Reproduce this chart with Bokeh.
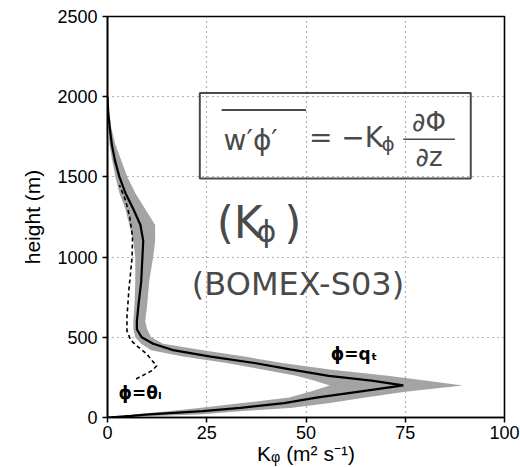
from bokeh.plotting import figure
from bokeh.models import Range1d, FixedTicker
from bokeh.core.properties import value
from bokeh.embed import file_html
from bokeh.resources import INLINE

# ---- data ----
z_prof = [0, 10, 20, 40, 60, 90, 125, 160, 200, 230, 260, 300, 340, 380, 420, 460,
          500, 550, 600, 700, 850, 1000, 1100, 1200, 1300, 1400, 1500, 1600, 1700,
          1800, 1900, 2000]
k_qt = [0, 6, 10.5, 24, 33.5, 44.5, 53, 63, 74.5, 66.5, 55.75, 46, 37, 26, 16.5, 11.5,
        8.6, 7.4, 7.4, 7.8, 8.5, 8.8, 9, 8.3, 6.5, 4.5, 3, 1.9, 1.1, 0.6, 0.2, 0]
k_qt_hi = [0, 12, 24, 34, 46, 56, 65, 75, 89.5, 80, 70.6, 56, 44, 34.5, 24, 14,
           11, 10, 9.5, 10, 10.5, 11.5, 12, 12, 9.5, 7, 5, 3.5, 2, 1, 0.4, 0]
k_qt_lo = [0, 3.5, 7, 16, 23, 34, 45.75, 51, 56, 52, 47.5, 39, 30, 19, 11, 8.5,
           7, 6.5, 6.5, 6.8, 7, 7, 6.5, 5.5, 4.5, 3, 2, 1.2, 0.5, 0.2, 0, 0]

z_thl = [240, 255, 275, 295, 323, 355, 396, 440, 480, 540, 625, 800, 1000, 1125,
         1250, 1350, 1450]
k_thl = [7.2, 8.3, 9.9, 11.4, 12.4, 11.2, 9.9, 7.7, 5.9, 4.9, 4.9, 5.4, 6.2, 6.3,
         5.6, 4.6, 3.0]

x_ticks = [0, 25, 50, 75, 100]
y_ticks = [0, 500, 1000, 1500, 2000, 2500]

FONT = "Liberation Sans"
PENCIL = "#4a4a4a"

p = figure(width=520, height=467, output_backend="svg", toolbar_location=None,
           x_range=Range1d(0, 100), y_range=Range1d(0, 2500),
           min_border_left=107, min_border_right=16, min_border_top=16,
           min_border_bottom=50)
p.background_fill_color = "white"
p.border_fill_color = "white"
p.outline_line_color = "black"
p.outline_line_width = 1.6

# band and lines
p.harea(y=z_prof, x1=k_qt_lo, x2=k_qt_hi, fill_color="#a4a4a4", fill_alpha=1.0)
p.line(x=k_qt, y=z_prof, line_color="black", line_width=2.2)
p.line(x=k_thl, y=z_thl, line_color="black", line_width=1.6, line_dash="4 3")

# curve labels
p.text(x=[2.75], y=[154], text=["ϕ=θₗ"], text_font=value("DejaVu Sans"),
       text_font_style="bold", text_font_size=value("17px"),
       text_baseline="middle", text_align="left", text_color="black")
p.text(x=[56.25], y=[398], text=["ϕ=qₜ"], text_font=value("DejaVu Sans"),
       text_font_style="bold", text_font_size=value("17px"),
       text_baseline="middle", text_align="left", text_color="black")

# hand-written annotations
p.quad(left=[23.25], right=[91.5], bottom=[1490], top=[2023], fill_alpha=0,
       line_color=PENCIL, line_width=2)
p.line(x=[28.75, 50], y=[1917, 1917], line_color=PENCIL, line_width=2)
hw = dict(text_font=value("DejaVu Sans"), text_color=PENCIL,
          text_baseline="middle")
p.text(x=[29.25], y=[1729], text=["w′ϕ′"], text_font_size=value("28px"),
       text_align="left", **hw)
p.text(x=[50.75], y=[1748], text=["= −K"], text_font_size=value("28px"),
       text_align="left", **hw)
p.text(x=[69.0], y=[1705], text=["ϕ"], text_font_size=value("20px"),
       text_align="left", **hw)
p.line(x=[74.5, 87.5], y=[1735, 1735], line_color=PENCIL, line_width=1.5)
p.text(x=[81.0], y=[1840], text=["∂Φ"], text_font_size=value("26px"),
       text_align="center", **hw)
p.text(x=[81.0], y=[1625], text=["∂z"], text_font_size=value("26px"),
       text_align="center", **hw)
p.text(x=[27.5], y=[1215], text=["(K"], text_font_size=value("44px"),
       text_align="left", **hw)
p.text(x=[37.5], y=[1160], text=["ϕ"], text_font_size=value("30px"),
       text_align="left", **hw)
p.text(x=[44.5], y=[1215], text=[")"], text_font_size=value("44px"),
       text_align="left", **hw)
p.text(x=[21.25], y=[835], text=["(BOMEX-S03)"], text_font_size=value("32px"),
       text_align="left", **hw)

# axes
for ax in (p.xaxis[0], p.yaxis[0]):
    ax.axis_line_color = "black"
    ax.axis_line_width = 1.6
    ax.major_tick_line_color = "black"
    ax.major_tick_line_width = 1.5
    ax.major_tick_in = 0
    ax.major_tick_out = 5
    ax.minor_tick_line_color = None
    ax.major_label_text_font = FONT
    ax.major_label_text_font_size = "18px"
    ax.major_label_text_color = "black"
    ax.axis_label_text_font = FONT
    ax.axis_label_text_font_style = "normal"
    ax.axis_label_text_font_size = "21px"
    ax.axis_label_text_color = "black"

p.xaxis.ticker = FixedTicker(ticks=x_ticks)
p.yaxis.ticker = FixedTicker(ticks=y_ticks)
p.xaxis.axis_label = "Kᵩ (m² s⁻¹)"
p.yaxis.axis_label = "height (m)"
p.xaxis.major_label_standoff = 3
p.xaxis.axis_label_standoff = 0
p.yaxis.major_label_standoff = 5
p.yaxis.axis_label_standoff = 10
p.yaxis.major_label_orientation = "horizontal"

for g in (p.xgrid, p.ygrid):
    g.grid_line_color = "#666666"
    g.grid_line_dash = "1 4"
    g.grid_line_width = 1.2

open("out.html", "w").write(file_html(p, INLINE))
